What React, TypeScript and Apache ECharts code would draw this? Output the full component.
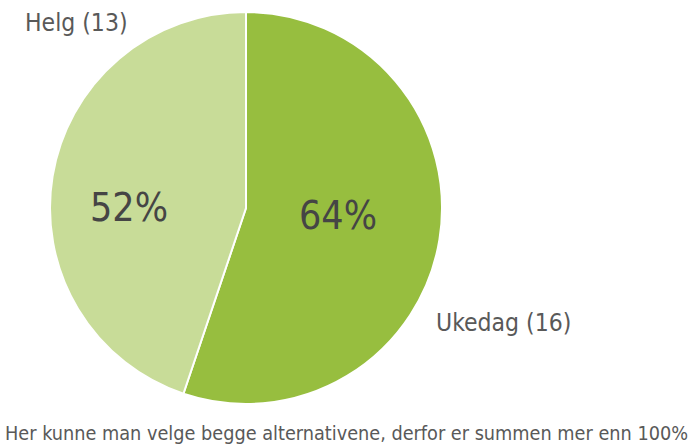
import React, { useEffect, useRef } from "react";
import * as echarts from "echarts";

const categories = ["Ukedag", "Helg"];
const counts = [16, 13];
const percents = [64, 52];
const colors = ["#97be3f", "#c8dc98"];
const note = "Her kunne man velge begge alternativene, derfor er summen mer enn 100%";

const FONT = "'DejaVu Sans Condensed', 'Liberation Sans Narrow', sans-serif";

export default function App() {
  const ref = useRef<HTMLDivElement>(null);
  useEffect(() => {
    if (!ref.current) return;
    const chart = echarts.init(ref.current, null, { renderer: "svg" });
    chart.setOption({
      animation: false,
      backgroundColor: "#ffffff",
      series: [
        {
          type: "pie",
          center: [246, 208],
          radius: [0, 196],
          startAngle: 90,
          clockwise: true,
          label: { show: false },
          labelLine: { show: false },
          itemStyle: { borderColor: "#ffffff", borderWidth: 2 },
          emphasis: { disabled: true },
          data: categories.map((c, i) => ({
            name: c,
            value: counts[i],
            itemStyle: { color: colors[i] },
          })),
        },
      ],
      graphic: [
        {
          type: "text", x: 338, y: 215, z: 100,
          style: { text: percents[0] + "%", fontFamily: FONT, fontSize: 39, fill: "#454545", align: "center", verticalAlign: "middle" },
        },
        {
          type: "text", x: 129, y: 207, z: 100,
          style: { text: percents[1] + "%", fontFamily: FONT, fontSize: 39, fill: "#454545", align: "center", verticalAlign: "middle" },
        },
        {
          type: "text", x: 436, y: 322, z: 100,
          style: { text: `${categories[0]} (${counts[0]})`, fontFamily: FONT, fontSize: 24.5, fill: "#595959", align: "left", verticalAlign: "middle" },
        },
        {
          type: "text", x: 25, y: 22, z: 100,
          style: { text: `${categories[1]} (${counts[1]})`, fontFamily: FONT, fontSize: 24.5, fill: "#595959", align: "left", verticalAlign: "middle" },
        },
        {
          type: "text", x: 5, y: 433, z: 100,
          style: { text: note, fontFamily: FONT, fontSize: 19.7, fill: "#595959", align: "left", verticalAlign: "middle" },
        },
      ],
    });
    return () => chart.dispose();
  }, []);
  return <div ref={ref} style={{ width: 694, height: 447, position: "absolute", left: 0, top: 0 }} />;
}
